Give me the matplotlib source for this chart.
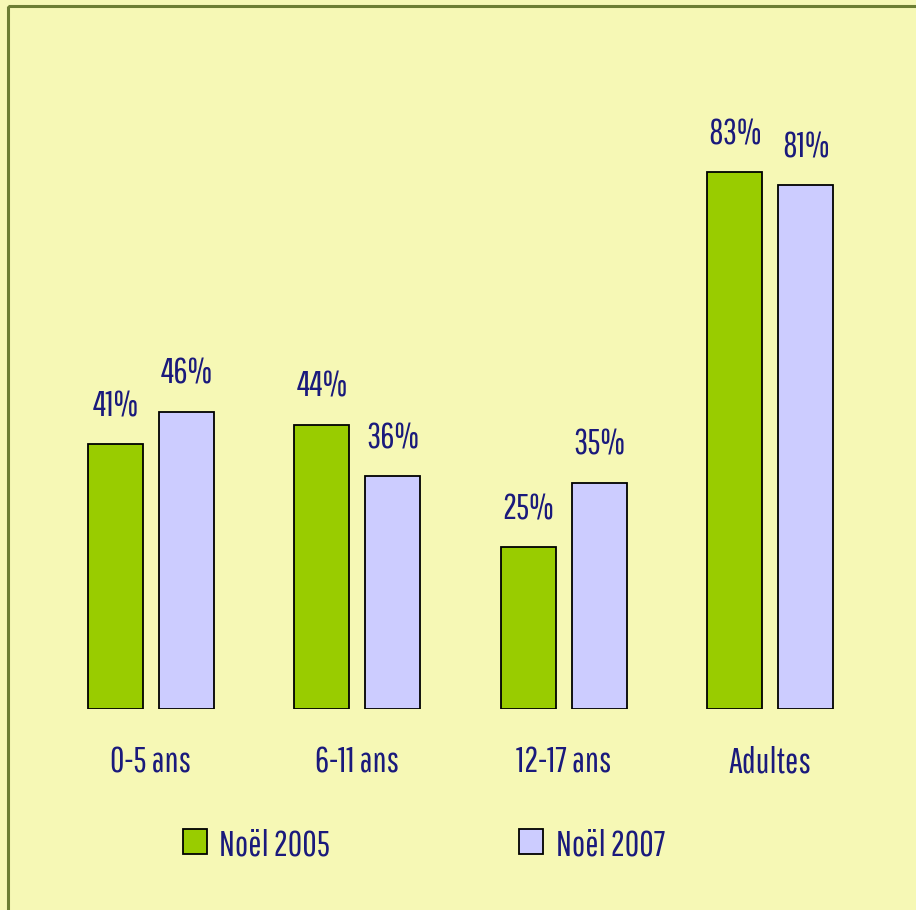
import matplotlib
matplotlib.use("Agg")
import matplotlib.pyplot as plt
import numpy as np
from matplotlib import font_manager as fm
from matplotlib.patches import Rectangle
from matplotlib.transforms import Affine2D

categories = ["0-5 ans", "6-11 ans", "12-17 ans", "Adultes"]
series_names = ["Noël 2005", "Noël 2007"]
noel_2005 = [41, 44, 25, 83]
noel_2007 = [46, 36, 35, 81]
colors = ["#99CC00", "#CCCCFF"]

BG = "#F6F8B5"
TXT = "#1A1A7C"
available = {f.name for f in fm.fontManager.ttflist}
cands = ["Pathway Gothic One", "Fira Sans Extra Condensed", "Sofia Sans Extra Condensed",
         "Saira Extra Condensed", "Roboto Condensed", "Liberation Sans Narrow"]
main = next((c for c in cands if c in available), "DejaVu Sans")
plt.rcParams["font.family"] = [main, "DejaVu Sans"]
WT = "normal"

W, H = 916, 910
fig = plt.figure(figsize=(W / 100, H / 100), dpi=100, facecolor=BG)

# fit font size so that "Noël 2005" is ~111 px wide
r = fig.canvas.get_renderer()
t = fig.text(0, 0, "Noël 2005", fontsize=20, fontweight=WT)
wpx = t.get_window_extent(r).width
t.remove()
FS = 20 * 111 / wpx

y0 = (H - 709) / H
hgt = 646.5 / H
ax = fig.add_axes([0, y0, 1, hgt])
ax.set_facecolor("none")
sp = 206.33
ax.set_xlim(-151 / sp, (W - 151) / sp)
ax.set_ylim(0, 100)
ax.axis("off")

x = np.arange(len(categories))
bw = 55 / sp
off = 35.5 / sp
for vals, col, dx in [(noel_2005, colors[0], -off), (noel_2007, colors[1], off)]:
    bars = ax.bar(x + dx, vals, width=bw, color=col, edgecolor="black", linewidth=1.3)
    for b, v in zip(bars, vals):
        ax.annotate(f"{v}%", (b.get_x() + b.get_width() / 2, v), xytext=(0, 20),
                    textcoords="offset points", ha="center", va="baseline",
                    fontsize=FS, fontweight=WT, color=TXT)

for xi, c in zip(x, categories):
    ax.annotate(c, (xi, 0), xytext=(0, -46), textcoords="offset points",
                ha="center", va="baseline", fontsize=FS, fontweight=WT, color=TXT)

pixtr = Affine2D().scale(1 / W, -1 / H).translate(0, 1) + fig.transFigure
for (sx, tx), col, name in zip([(183, 219), (519, 556)], colors, series_names):
    fig.patches.append(Rectangle((sx, 829), 24, 25, transform=pixtr, facecolor=col,
                                 edgecolor="black", linewidth=1.3))
    fig.text(tx, 855, name, transform=pixtr, ha="left", va="baseline",
             fontsize=FS, fontweight=WT, color=TXT)

fig.patches.append(Rectangle((8, 6), W + 20, H + 20, transform=pixtr, facecolor="none",
                             edgecolor="#6C7E33", linewidth=2.2))

fig.savefig("out.png", dpi=100, facecolor=BG)
